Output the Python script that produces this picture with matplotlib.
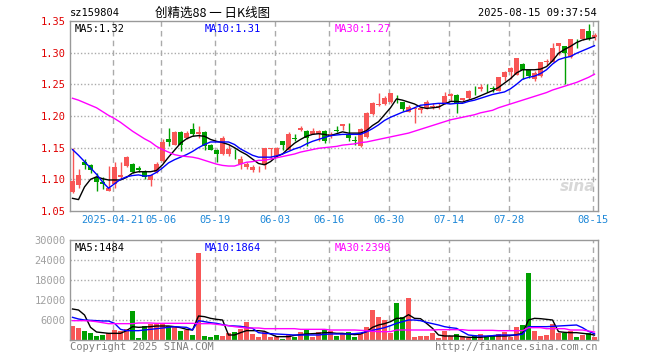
import numpy as np
import pandas as pd
import matplotlib
matplotlib.use('Agg')
import matplotlib.pyplot as plt

# Candles (red = up, green = down)
opens = [1.080, 1.091, 1.127, 1.122, 1.103, 1.096, 1.082, 1.093, 1.103, 1.121,
         1.124, 1.118, 1.112, 1.099, 1.111, 1.129, 1.164, 1.155, 1.175, 1.166,
         1.179, 1.172, 1.175, 1.155, 1.146, 1.140, 1.140, 1.134, 1.124, 1.119,
         1.115, 1.116, 1.122, 1.148, 1.137, 1.161, 1.147, 1.165, 1.178, 1.177,
         1.172, 1.172, 1.177, 1.168, 1.178, 1.184, 1.171, 1.162, 1.153, 1.167,
         1.203, 1.218, 1.219, 1.222, 1.232, 1.222, 1.207, 1.211, 1.209, 1.212,
         1.214, 1.214, 1.220, 1.232, 1.233, 1.226, 1.229, 1.240, 1.243, 1.245,
         1.244, 1.240, 1.261, 1.269, 1.265, 1.282, 1.273, 1.258, 1.263, 1.285,
         1.286, 1.310, 1.310, 1.293, 1.322, 1.321, 1.335, 1.324]
highs = [1.149, 1.117, 1.132, 1.125, 1.110, 1.103, 1.121, 1.127, 1.127, 1.137,
         1.126, 1.121, 1.114, 1.107, 1.128, 1.164, 1.181, 1.176, 1.176, 1.176,
         1.189, 1.184, 1.177, 1.156, 1.148, 1.168, 1.155, 1.148, 1.137, 1.127,
         1.122, 1.121, 1.150, 1.150, 1.151, 1.161, 1.174, 1.171, 1.185, 1.178,
         1.181, 1.178, 1.178, 1.174, 1.185, 1.188, 1.189, 1.168, 1.181, 1.207,
         1.222, 1.236, 1.232, 1.237, 1.233, 1.222, 1.217, 1.215, 1.214, 1.226,
         1.221, 1.220, 1.238, 1.236, 1.234, 1.229, 1.241, 1.247, 1.250, 1.251,
         1.248, 1.262, 1.271, 1.277, 1.291, 1.284, 1.273, 1.271, 1.286, 1.290,
         1.315, 1.316, 1.310, 1.322, 1.322, 1.337, 1.345, 1.331]
lows = [1.079, 1.086, 1.116, 1.110, 1.081, 1.085, 1.082, 1.086, 1.100, 1.120,
        1.110, 1.111, 1.100, 1.090, 1.110, 1.128, 1.153, 1.154, 1.145, 1.163,
        1.169, 1.166, 1.147, 1.146, 1.127, 1.138, 1.137, 1.132, 1.116, 1.116,
        1.111, 1.111, 1.116, 1.132, 1.136, 1.147, 1.146, 1.160, 1.176, 1.152,
        1.171, 1.160, 1.157, 1.165, 1.174, 1.178, 1.160, 1.155, 1.151, 1.165,
        1.202, 1.216, 1.217, 1.221, 1.221, 1.208, 1.206, 1.189, 1.205, 1.211,
        1.211, 1.211, 1.219, 1.223, 1.205, 1.223, 1.227, 1.233, 1.240, 1.238,
        1.238, 1.239, 1.255, 1.259, 1.264, 1.258, 1.260, 1.255, 1.262, 1.281,
        1.285, 1.297, 1.251, 1.292, 1.308, 1.320, 1.320, 1.320]
closes = [1.097, 1.107, 1.122, 1.114, 1.096, 1.092, 1.087, 1.119, 1.107, 1.135,
          1.112, 1.114, 1.103, 1.107, 1.124, 1.159, 1.159, 1.174, 1.155, 1.173,
          1.172, 1.175, 1.152, 1.147, 1.140, 1.166, 1.148, 1.133, 1.132, 1.124,
          1.119, 1.117, 1.149, 1.150, 1.150, 1.154, 1.172, 1.164, 1.181, 1.166,
          1.176, 1.177, 1.160, 1.172, 1.177, 1.188, 1.166, 1.161, 1.179, 1.205,
          1.221, 1.219, 1.228, 1.236, 1.231, 1.211, 1.215, 1.212, 1.212, 1.222,
          1.216, 1.216, 1.232, 1.234, 1.221, 1.228, 1.240, 1.239, 1.245, 1.244,
          1.243, 1.261, 1.270, 1.276, 1.291, 1.272, 1.263, 1.268, 1.285, 1.287,
          1.308, 1.316, 1.299, 1.321, 1.321, 1.337, 1.322, 1.328]

# price moving averages as drawn
ma5 = [1.070, 1.068, 1.088, 1.100, 1.104, 1.101, 1.099, 1.099, 1.099, 1.103,
       1.110, 1.112, 1.112, 1.112, 1.114, 1.123, 1.135, 1.146, 1.157, 1.164,
       1.168, 1.169, 1.168, 1.163, 1.160, 1.158, 1.155, 1.150, 1.144, 1.139,
       1.132, 1.125, 1.123, 1.128, 1.136, 1.140, 1.149, 1.157, 1.163, 1.168,
       1.171, 1.172, 1.171, 1.169, 1.172, 1.175, 1.173, 1.173, 1.173, 1.177,
       1.185, 1.191, 1.202, 1.213, 1.227, 1.225, 1.222, 1.219, 1.214, 1.212,
       1.213, 1.214, 1.219, 1.223, 1.223, 1.222, 1.225, 1.228, 1.232, 1.236,
       1.240, 1.245, 1.252, 1.259, 1.268, 1.273, 1.273, 1.273, 1.274, 1.278,
       1.287, 1.299, 1.305, 1.310, 1.316, 1.320, 1.322, 1.324]
ma10 = [1.147, 1.138, 1.128, 1.118, 1.108, 1.096, 1.086, 1.093, 1.100, 1.104,
        1.106, 1.107, 1.105, 1.106, 1.111, 1.118, 1.126, 1.131, 1.135, 1.139,
        1.144, 1.150, 1.155, 1.159, 1.159, 1.159, 1.159, 1.155, 1.148, 1.143,
        1.138, 1.135, 1.135, 1.135, 1.137, 1.140, 1.144, 1.148, 1.151, 1.156,
        1.160, 1.163, 1.166, 1.169, 1.170, 1.171, 1.171, 1.171, 1.171, 1.175,
        1.180, 1.186, 1.193, 1.198, 1.202, 1.206, 1.209, 1.213, 1.217, 1.218,
        1.219, 1.220, 1.220, 1.219, 1.220, 1.220, 1.223, 1.225, 1.228, 1.231,
        1.234, 1.236, 1.238, 1.243, 1.250, 1.258, 1.261, 1.263, 1.267, 1.273,
        1.282, 1.289, 1.292, 1.294, 1.299, 1.303, 1.307, 1.311]
ma30 = [1.228, 1.225, 1.221, 1.217, 1.213, 1.207, 1.201, 1.196, 1.190, 1.183,
        1.176, 1.170, 1.164, 1.159, 1.152, 1.147, 1.143, 1.139, 1.137, 1.136,
        1.135, 1.133, 1.130, 1.127, 1.124, 1.122, 1.121, 1.121, 1.124, 1.127,
        1.128, 1.130, 1.130, 1.132, 1.134, 1.136, 1.138, 1.140, 1.143, 1.145,
        1.147, 1.149, 1.150, 1.151, 1.152, 1.154, 1.155, 1.156, 1.158, 1.159,
        1.161, 1.163, 1.165, 1.167, 1.169, 1.171, 1.173, 1.176, 1.179, 1.182,
        1.185, 1.188, 1.191, 1.194, 1.196, 1.198, 1.200, 1.202, 1.205, 1.207,
        1.209, 1.213, 1.216, 1.219, 1.222, 1.225, 1.228, 1.231, 1.234, 1.237,
        1.241, 1.244, 1.247, 1.250, 1.253, 1.257, 1.261, 1.266]

volume = [4200, 3600, 2700, 2000, 1200, 1500, 2000, 3000, 2700, 3200,
          8700, 600, 4200, 4800, 4800, 5000, 4200, 3800, 2700, 3000,
          1500, 26200, 1200, 900, 1500, 1200, 2200, 2500, 3300, 5500,
          1800, 1000, 2500, 1000, 1000, 400, 1500, 800, 2500, 3000,
          1000, 2500, 3200, 2600, 1200, 2000, 2500, 800, 1800, 4000,
          9000, 7000, 6000, 2000, 11200, 6800, 12700, 800, 1200, 1200,
          2000, 500, 2800, 1200, 1800, 1200, 500, 1200, 1700, 1200,
          1200, 1800, 2500, 1000, 4000, 4500, 20200, 2800, 1200, 1500,
          4800, 2200, 2200, 2800, 1000, 1500, 2200, 800]
vol_ma5 = [9300, 9000, 7500, 3800, 2400, 2200, 2000, 2000, 2000, 2800,
           4000, 3800, 3900, 4000, 4200, 4200, 4200, 4000, 3700, 3200,
           3000, 7200, 7000, 6500, 6200, 6000, 1500, 1500, 2200, 2800,
           2800, 2800, 2600, 1800, 1000, 1000, 1000, 1400, 1600, 1800,
           1900, 2000, 2200, 2200, 2000, 2000, 1800, 1600, 1800, 2500,
           3800, 4500, 4900, 5500, 6500, 6500, 7600, 6500, 6400, 5000,
           3500, 1500, 1200, 1200, 1200, 1000, 800, 800, 800, 1000,
           1200, 1200, 1200, 1300, 1600, 2000, 6000, 6500, 6400, 6200,
           6000, 2500, 2300, 2200, 2200, 2000, 1800, 1484]
vol_ma10 = [6800, 6300, 6000, 5900, 5800, 5700, 5700, 5000, 3200, 2800,
            2800, 2800, 3000, 3200, 3400, 3600, 3800, 4000, 3900, 3800,
            3000, 5800, 5500, 5200, 5000, 4600, 4300, 4200, 4100, 3800,
            3500, 2200, 2000, 1900, 1800, 1700, 1600, 1500, 1500, 1500,
            1500, 1500, 1700, 1800, 1800, 1800, 1800, 1900, 2100, 2500,
            2900, 3300, 3700, 4300, 5000, 5500, 6000, 6000, 5800, 5300,
            4900, 4500, 4000, 3700, 3500, 2500, 1500, 1300, 1200, 1200,
            1300, 1500, 1500, 1500, 1500, 1700, 4000, 4000, 4000, 4000,
            4100, 4200, 4300, 4400, 4500, 3700, 2600, 1864]
vol_ma30 = [5800, 5800, 5800, 5700, 5500, 5200, 4900, 4900, 4900, 4900,
            4900, 5100, 5100, 5100, 5000, 5000, 5000, 5000, 5000, 5000,
            5000, 4900, 4900, 4900, 4700, 4500, 4300, 4000, 3800, 3600,
            3600, 3600, 3400, 3400, 3400, 3400, 3400, 3400, 3200, 3200,
            3200, 3200, 3200, 3000, 3000, 3000, 3000, 3000, 2900, 2800,
            2600, 2500, 2500, 2500, 3000, 3000, 3000, 3000, 3000, 3000,
            3000, 3100, 3100, 3100, 3100, 3100, 2900, 2900, 2900, 2900,
            2900, 2800, 2800, 2800, 2800, 2800, 3700, 3700, 3700, 3400,
            3400, 3400, 3400, 3000, 3000, 3000, 2700, 2390]

# trading days (exchange holidays removed)
holidays = ['2025-05-01', '2025-05-02', '2025-05-05', '2025-06-02']
dates = pd.bdate_range('2025-04-10', '2025-08-15').drop(pd.to_datetime(holidays))
tick_dates = ['2025-04-21', '2025-05-06', '2025-05-19', '2025-06-03', '2025-06-16',
              '2025-06-30', '2025-07-14', '2025-07-28', '2025-08-15']
price_ticks = [1.05, 1.10, 1.15, 1.20, 1.25, 1.30, 1.35]
vol_ticks = [6000, 12000, 18000, 24000, 30000]

RED = '#f85656'
GREEN = '#00a000'
GRID = '#aaaaaa'
MONO = 'DejaVu Sans Mono'

x = np.arange(len(closes))
o = np.array(opens)
c = np.array(closes)
up = c >= o
colors = np.where(up, RED, GREEN)

fig = plt.figure(figsize=(6.6, 3.6), dpi=100)
W, H = 660.0, 360.0
ax = fig.add_axes([70 / W, 1 - 211 / H, 527.5 / W, 190 / H])
axv = fig.add_axes([70 / W, 1 - 340 / H, 527.5 / W, 100 / H])

tick_idx = [dates.get_loc(pd.Timestamp(d)) - 0.33 for d in tick_dates]
tick_lbl = [tick_dates[0]] + [d[5:] for d in tick_dates[1:]]

for a in (ax, axv):
    a.set_xlim(-0.42, 87.5)
    for s in a.spines.values():
        s.set_color('#999999')
        s.set_linewidth(1)
    a.tick_params(length=0)
    for t in tick_idx:
        a.axvline(t, color=GRID, lw=1, ls=(0, (4, 3)), zorder=0)

# price panel
ax.set_ylim(1.05, 1.35)
for p in price_ticks[1:-1]:
    ax.axhline(p, color=GRID, lw=1, ls=(0, (1, 1.5)), zorder=0)
ax.set_yticks(price_ticks)
ax.set_yticklabels(['%.2f' % p for p in price_ticks], color='#e00000',
                   family=MONO, fontsize=7.5)
ax.set_xticks(tick_idx)
ax.set_xticklabels(tick_lbl, color='#1e88d8', family=MONO, fontsize=7.5)
ax.tick_params(axis='x', pad=3)
ax.tick_params(axis='y', pad=3)

ax.vlines(x, lows, highs, colors=colors, lw=1, zorder=2)
body = np.maximum(np.abs(c - o), 0.0009)
ax.bar(x, body, bottom=np.minimum(o, c), width=0.75, color=colors, zorder=3)
ax.plot(x, ma5, color='black', lw=1, zorder=4)
ax.plot(x, ma10, color='#0000ff', lw=1, zorder=4)
ax.plot(x, ma30, color='#ff00ff', lw=1, zorder=4)

ax.text(0.008, 0.985, 'MA5:%.2f' % ma5[-1], transform=ax.transAxes, va='top',
        family=MONO, fontsize=7.5, color='black')
ax.text(0.255, 0.985, 'MA10:%.2f' % ma10[-1], transform=ax.transAxes, va='top',
        family=MONO, fontsize=7.5, color='#0000ff')
ax.text(0.502, 0.985, 'MA30:%.2f' % ma30[-1], transform=ax.transAxes, va='top',
        family=MONO, fontsize=7.5, color='#ff00ff')
ax.text(0.995, 0.09, 'sina', transform=ax.transAxes, ha='right', va='bottom',
        fontsize=11, fontweight='bold', style='italic', color='#d8d8d8', zorder=1)

# volume panel
axv.set_ylim(0, 30000)
for v in vol_ticks[:-1]:
    axv.axhline(v, color=GRID, lw=1, ls=(0, (1, 1.5)), zorder=0)
axv.set_yticks(vol_ticks)
axv.set_yticklabels([str(v) for v in vol_ticks], color='#a0a0a0',
                    family=MONO, fontsize=7.5)
axv.tick_params(axis='y', pad=3)
axv.set_xticks([])
axv.bar(x, volume, width=0.78, color=colors, zorder=2)
axv.plot(x, vol_ma5, color='black', lw=1, zorder=3)
axv.plot(x, vol_ma10, color='#0000ff', lw=1, zorder=3)
axv.plot(x, vol_ma30, color='#ff00ff', lw=1, zorder=3)
axv.text(0.008, 0.97, 'MA5:%d' % vol_ma5[-1], transform=axv.transAxes, va='top',
         family=MONO, fontsize=7.5, color='black')
axv.text(0.255, 0.97, 'MA10:%d' % vol_ma10[-1], transform=axv.transAxes, va='top',
         family=MONO, fontsize=7.5, color='#0000ff')
axv.text(0.502, 0.97, 'MA30:%d' % vol_ma30[-1], transform=axv.transAxes, va='top',
         family=MONO, fontsize=7.5, color='#ff00ff')

# header and footer
fig.text(70 / W, 1 - 13 / H, 'sz159804', family=MONO, fontsize=7.5, va='center')
fig.text(213 / W, 1 - 13 / H, '创精选88 一 日K线图', ha='center', va='center',
         family=['Noto Sans CJK SC', 'DejaVu Sans'], fontsize=9)
fig.text(597 / W, 1 - 13 / H, '2025-08-15 09:37:54', ha='right', va='center',
         family=MONO, fontsize=7.5)
fig.text(70 / W, 1 - 347 / H, 'Copyright 2025 SINA.COM', va='center',
         family=MONO, fontsize=7.5, color='#808080')
fig.text(597 / W, 1 - 347 / H, 'http://finance.sina.com.cn', ha='right', va='center',
         family=MONO, fontsize=7.5, color='#808080')

fig.savefig('out.png', dpi=100, facecolor='white')
